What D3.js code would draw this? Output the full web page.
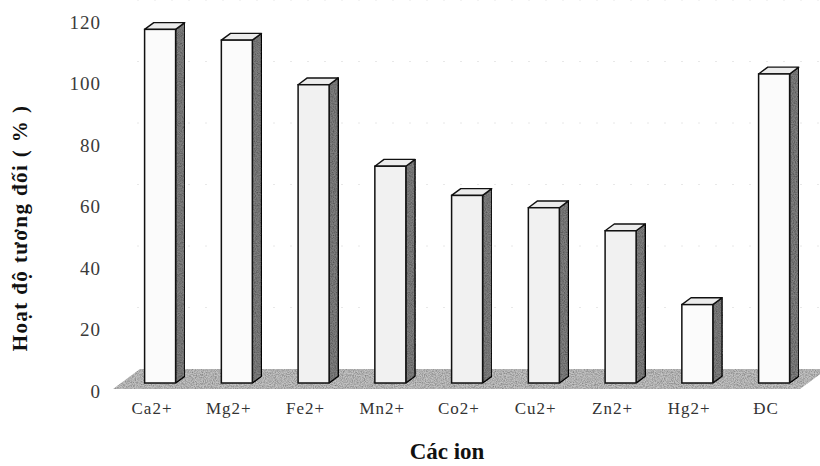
<!DOCTYPE html>
<html>
<head>
<meta charset="utf-8">
<script src="https://cdn.jsdelivr.net/npm/d3@7"></script>
<style>
  body { margin: 0; background: #fff; }
  text { font-family: "Liberation Serif", "Times New Roman", serif; }
</style>
</head>
<body>
<svg id="chart" width="820" height="466"></svg>
<script>
// data
var categories = ["Ca2+", "Mg2+", "Fe2+", "Mn2+", "Co2+", "Cu2+", "Zn2+", "Hg2+", "ĐC"];
var values = [115, 111.5, 97, 70.5, 61, 57, 49.5, 25.5, 100.5];
var yTicks = [0, 20, 40, 60, 80, 100, 120];
// bars with a greyish speckled front face in the scan
var greyFront = ["Fe2+", "Mn2+", "Co2+", "Cu2+", "Zn2+"];

var svg = d3.select("#chart");

// floor depth (front edge -> back wall) and bar position inside it
var depthX = 27, depthY = -20;
var barFront = 0.3, barBack = 0.64;
var barWidth = 31;

// x along the front edge of the floor
var x = d3.scalePoint()
    .domain(categories)
    .range([152, 766]);

// value scale on the front plane
var y = d3.scaleLinear()
    .domain([0, 120])
    .range([389, 20]);

var defs = svg.append("defs");

var f = defs.append("filter").attr("id", "grain")
    .attr("x", 0).attr("y", 0).attr("width", 1).attr("height", 1);
f.append("feTurbulence").attr("type", "fractalNoise")
    .attr("baseFrequency", 0.9).attr("numOctaves", 2).attr("seed", 3).attr("result", "noise");
f.append("feColorMatrix").attr("in", "noise").attr("type", "matrix")
    .attr("values", "0 0 0 0 0  0 0 0 0 0  0 0 0 0 0  0 0 0 -1.1 0.75")
    .attr("result", "dots");
f.append("feComposite").attr("in", "dots").attr("in2", "SourceGraphic").attr("operator", "in").attr("result", "speck");
f.append("feMerge").selectAll("feMergeNode")
    .data(["SourceGraphic", "speck"]).enter()
    .append("feMergeNode").attr("in", function(d) { return d; });

// back wall gridlines (barely visible in the scan)
svg.append("g").attr("class", "grid")
    .selectAll("line")
    .data(yTicks.filter(function(d) { return d > 0; }))
    .enter()
    .append("line")
    .attr("x1", 110 + depthX)
    .attr("x2", 822)
    .attr("y1", function(d) { return y(d) + depthY; })
    .attr("y2", function(d) { return y(d) + depthY; })
    .attr("stroke", "#e8e8e8")
    .attr("stroke-width", 1)
    .attr("stroke-dasharray", "2,15");

// floor
var fl = 113, fr = 800, y0 = y(0);
svg.append("path")
    .attr("d", "M" + fl + "," + y0 + "L" + (fl + depthX) + "," + (y0 + depthY) +
               "L" + (fr + depthX) + "," + (y0 + depthY) + "L" + fr + "," + y0 + "Z")
    .attr("fill", "#c2c2c2")
    .attr("filter", "url(#grain)");

// bars
var bars = svg.append("g").attr("class", "bars")
    .selectAll("g")
    .data(categories)
    .enter()
    .append("g");

bars.each(function(c, i) {
    var g = d3.select(this);
    var ox = x(c) + depthX * barFront, oy = depthY * barFront;
    var bx = depthX * (barBack - barFront), by = depthY * (barBack - barFront);
    var x0 = ox - barWidth / 2, x1 = ox + barWidth / 2;
    var yb = y(0) + oy, yt = y(values[i]) + oy;

    // side
    g.append("path")
        .attr("d", "M" + x1 + "," + yb + "L" + (x1 + bx) + "," + (yb + by) +
                   "L" + (x1 + bx) + "," + (yt + by) + "L" + x1 + "," + yt + "Z")
        .attr("fill", "#808080")
        .attr("filter", "url(#grain)")
        .attr("stroke", "#111").attr("stroke-width", 1.4).attr("stroke-linejoin", "round");
    // top
    g.append("path")
        .attr("d", "M" + x0 + "," + yt + "L" + (x0 + bx) + "," + (yt + by) +
                   "L" + (x1 + bx) + "," + (yt + by) + "L" + x1 + "," + yt + "Z")
        .attr("fill", "#ececec")
        .attr("stroke", "#111").attr("stroke-width", 1.4).attr("stroke-linejoin", "round");
    // front
    g.append("rect")
        .attr("x", x0).attr("y", yt)
        .attr("width", barWidth).attr("height", yb - yt)
        .attr("fill", greyFront.indexOf(c) >= 0 ? "#f1f1f1" : "#fbfbfb")
        .attr("stroke", "#111").attr("stroke-width", 1.5);
});

// y tick labels
svg.append("g").attr("class", "yticks")
    .selectAll("text")
    .data(yTicks)
    .enter()
    .append("text")
    .attr("x", 101)
    .attr("y", function(d) { return y(d) + 2; })
    .attr("dy", "0.35em")
    .attr("text-anchor", "end")
    .attr("font-size", 19)
    .attr("letter-spacing", 1)
    .attr("fill", "#3a3a3a")
    .text(function(d) { return d; });

// category labels along front edge
svg.append("g").attr("class", "xticks")
    .selectAll("text")
    .data(categories)
    .enter()
    .append("text")
    .attr("x", function(d) { return x(d); })
    .attr("y", 414)
    .attr("text-anchor", "middle")
    .attr("font-size", 17)
    .attr("letter-spacing", 1)
    .attr("fill", "#333")
    .text(function(d) { return d; });

// axis titles
svg.append("text")
    .attr("transform", "translate(27,228) rotate(-90)")
    .attr("text-anchor", "middle")
    .attr("font-size", 21)
    .attr("letter-spacing", 1.4)
    .attr("font-weight", "bold")
    .attr("fill", "#111")
    .text("Hoạt độ tương đối ( % )");

svg.append("text")
    .attr("x", 447)
    .attr("y", 459)
    .attr("text-anchor", "middle")
    .attr("font-size", 23)
    .attr("font-weight", "bold")
    .attr("fill", "#111")
    .text("Các ion");
</script>
</body>
</html>
